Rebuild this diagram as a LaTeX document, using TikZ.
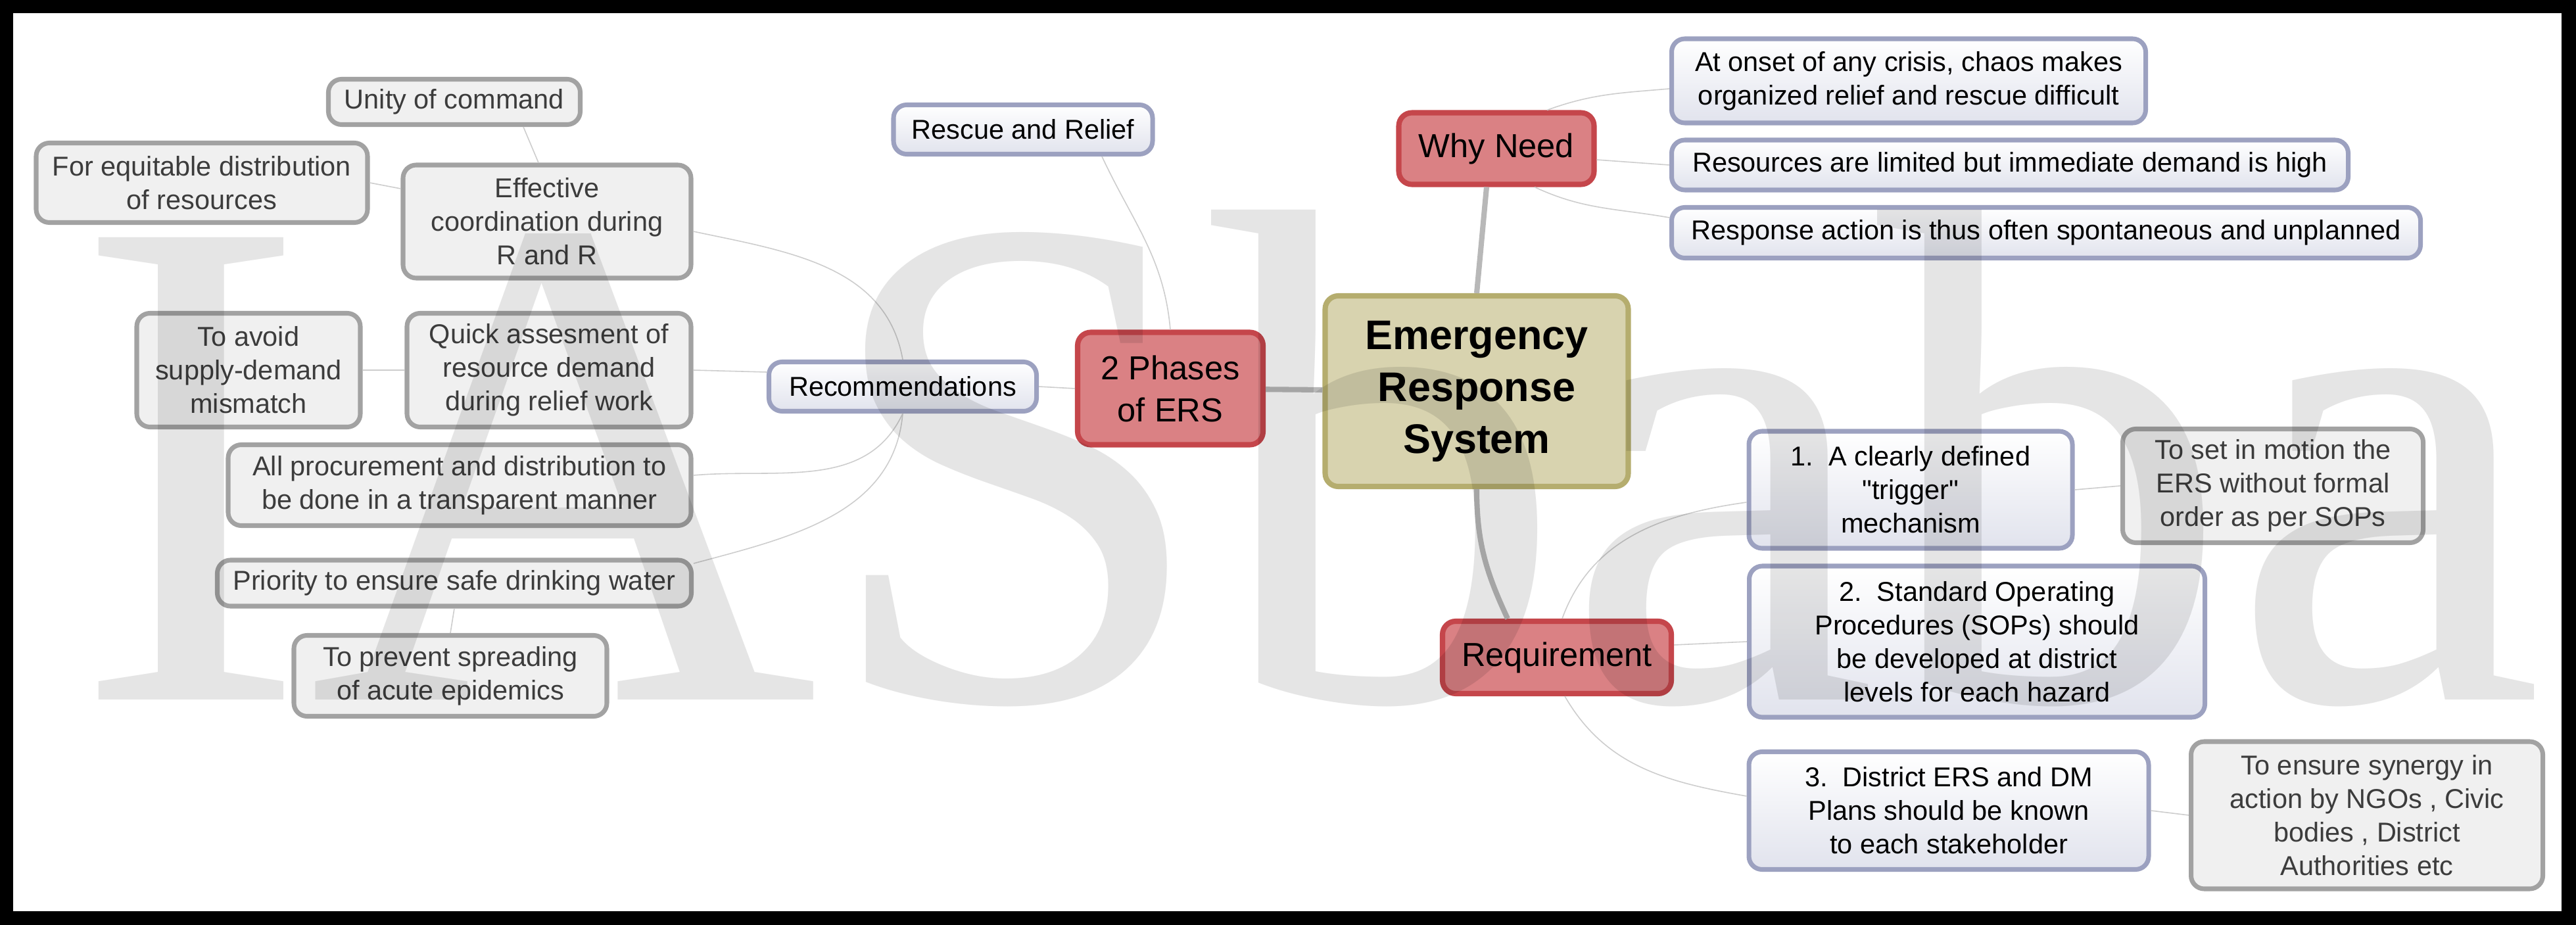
\documentclass[tikz,border=0pt]{standalone}
\usepackage{fontspec}
\setmainfont{Liberation Sans}
\newfontfamily\markfont{Liberation Serif}
\definecolor{leafline}{HTML}{A2A2A2}
\definecolor{leaffill}{HTML}{F0F0F0}
\definecolor{leaftext}{HTML}{3C3C3C}
\definecolor{subline}{HTML}{9CA1C0}
\definecolor{subfill}{HTML}{E1E3ED}
\definecolor{phaseline}{HTML}{C5464B}
\definecolor{phasefill}{HTML}{DA8184}
\definecolor{hubline}{HTML}{B5AD6E}
\definecolor{hubfill}{HTML}{D8D3AF}
\definecolor{trunkline}{HTML}{B8B8B8}
\definecolor{twigline}{HTML}{CDCDCD}

\begin{document}
\begin{tikzpicture}[x=1mm,y=-1mm,
	box/.style={rounded corners=2mm,align=center,inner sep=0pt,line width=2pt},
	dims/.style 2 args={minimum width=#1mm,minimum height=#2mm},
	leaf/.style={box,draw=leafline,fill=leaffill,text=leaftext,font=\fontsize{11.8}{14.5}\selectfont},
	sub/.style={box,draw=subline,top color=white,bottom color=subfill,font=\fontsize{11.8}{14.5}\selectfont},
	phase/.style={box,draw=phaseline,fill=phasefill,line width=2.3pt,font=\fontsize{14.4}{18.2}\selectfont},
	hub/.style={box,draw=hubline,fill=hubfill,line width=2.3pt,font=\fontsize{17.9}{22.5}\selectfont\bfseries},
	trunk/.style={draw=trunkline,line width=2.3pt},
	twig/.style={draw=twigline,line width=0.45pt}]
	\fill[black] (0,0) rectangle (391.8,140.7);
	\fill[white] (2.0,2.0) rectangle (389.6,138.6);
	\useasboundingbox (0,0) rectangle (391.8,140.7);

	\node[hub,dims={46.1}{29.0}] (ers) at (224.6,59.5) {Emergency\\Response\\System};
	\node[phase,dims={28.2}{17.1}] (phases) at (178.0,59.1) {2 Phases\\of ERS};
	\node[phase,dims={29.7}{10.9}] (why) at (227.6,22.6) {Why Need};
	\node[phase,dims={34.8}{11.0}] (req) at (236.8,100.0) {Requirement};

	\node[sub,dims={39.4}{7.5}] (rescue) at (155.6,19.7) {Rescue and Relief};
	\node[sub,dims={40.7}{7.5}] (recom) at (137.3,58.8) {Recommendations};
	\node[sub,dims={72.1}{12.8}] (onset) at (290.3,12.3) {At onset of any crisis, chaos makes\\organized relief and rescue difficult};
	\node[sub,dims={102.9}{7.6}] (limited) at (305.7,25.1) {Resources are limited but immediate demand is high};
	\node[sub,dims={113.9}{7.7}] (unplanned) at (311.2,35.4) {Response action is thus often spontaneous and unplanned};
	\node[sub,dims={49.2}{17.8}] (trigger) at (290.6,74.5) {1.\ \ A clearly defined\\\textquotedbl trigger\textquotedbl\\mechanism};
	\node[sub,dims={69.3}{23.0}] (sops) at (300.7,97.6) {2.\ \ Standard Operating\\Procedures (SOPs) should\\be developed at district\\levels for each hazard};
	\node[sub,dims={60.8}{17.9}] (plans) at (296.4,123.3) {3.\ \ District ERS and DM\\Plans should be known\\to each stakeholder};

	\node[leaf,dims={38.3}{6.9}] (unity) at (69.1,15.5) {Unity of command};
	\node[leaf,dims={50.4}{12.1}] (equit) at (30.7,27.8) {For equitable distribution\\of resources};
	\node[leaf,dims={43.8}{17.2}] (effect) at (83.2,33.7) {Effective\\coordination during\\R and R};
	\node[leaf,dims={34.0}{17.3}] (avoid) at (37.8,56.3) {To avoid\\supply-demand\\mismatch};
	\node[leaf,dims={43.2}{17.3}] (quick) at (83.5,56.3) {Quick assesment of\\resource demand\\during relief work};
	\node[leaf,dims={70.4}{12.3}] (procure) at (69.9,73.8) {All procurement and distribution to\\be done in a transparent manner};
	\node[leaf,dims={72.1}{7.0}] (water) at (69.1,88.7) {Priority to ensure safe drinking water};
	\node[leaf,dims={47.6}{12.3}] (epidem) at (68.5,102.8) {To prevent spreading\\of acute epidemics};
	\node[leaf,dims={45.7}{17.3}] (motion) at (345.7,73.9) {To set in motion the\\ERS without formal\\order as per SOPs};
	\node[leaf,dims={53.5}{22.4}] (synergy) at (360.0,124.0) {To ensure synergy in\\action by NGOs , Civic\\bodies , District\\Authorities etc};

	\draw[trunk] (ers) -- (phases);
	\draw[trunk] (ers.north) -- ([xshift=-1.5mm]why.south);
	\draw[trunk] (ers.south) to[out=-90,in=115] ([xshift=-7.5mm]req.north);

	\draw[twig] ([xshift=7.7mm]why.north) to[out=20,in=185] ([yshift=-1.2mm]onset.west);
	\draw[twig] ([yshift=-1.7mm]why.east) -- (limited.west);
	\draw[twig] ([xshift=5.8mm]why.south) to[out=-25,in=170] ([yshift=2.3mm]unplanned.west);
	\draw[twig] (phases.north) to[out=95,in=-65] ([xshift=12mm]rescue.south);
	\draw[twig] (phases.west) -- (recom.east);
	\draw[twig] (recom.north) to[out=100,in=-12] ([yshift=-1.5mm]effect.east);
	\draw[twig] ([yshift=2.2mm]recom.west) -- (quick.east);
	\draw[twig] (recom.south) to[out=-115,in=5] ([yshift=1.5mm]procure.east);
	\draw[twig] (recom.south) to[out=-95,in=15] ([yshift=3mm]water.east);
	\draw[twig] ([xshift=-1.3mm]effect.north) -- ([xshift=10.5mm]unity.south);
	\draw[twig] ([yshift=5mm]effect.west) -- (equit.east);
	\draw[twig] (quick.west) -- (avoid.east);
	\draw[twig] (water.south) -- (epidem.north);
	\draw[twig] ([xshift=0.8mm]req.north) to[out=70,in=188] ([yshift=-1.9mm]trigger.west);
	\draw[twig] ([yshift=1.9mm]req.east) -- (sops.west);
	\draw[twig] ([xshift=1.2mm]req.south) to[out=-60,in=170] ([yshift=2.2mm]plans.west);
	\draw[twig] (trigger.east) -- (motion.west);
	\draw[twig] (plans.east) -- (synergy.west);

	\node[anchor=base west,inner sep=0pt,text=black,text opacity=0.1,font=\markfont\fontsize{305.6}{300}\selectfont] (mark) at (11.1,106.4) {IASbaba};
\end{tikzpicture}
\end{document}
